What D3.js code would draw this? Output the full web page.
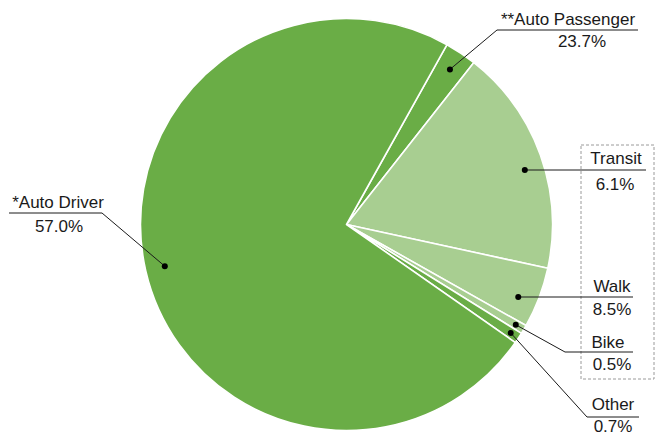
<!DOCTYPE html>
<html>
<head>
<meta charset="utf-8">
<script src="https://cdn.jsdelivr.net/npm/d3@7"></script>
<style>
    body { margin: 0; background: #fff; }
    text { font-family: "Liberation Sans", Arial, sans-serif; font-size: 17px; fill: #1a1a1a; }
</style>
</head>
<body>
<div id="chart"></div>
<script>
// slice order, clockwise from the Auto Passenger wedge near 12 o'clock
const categories = ["**Auto Passenger", "Transit", "Walk", "Bike", "Other", "*Auto Driver"];
// wedge sizes as drawn (share of the circle, %)
const sliceValues = [2.5, 17.8, 4.75, 0.7, 0.85, 73.4];
// percentages printed in the labels
const labelValues = ["23.7%", "6.1%", "8.5%", "0.5%", "0.7%", "57.0%"];
const shades = ["dark", "light", "light", "light", "dark", "dark"];

const width = 656, height = 435;
const cx = 346.5, cy = 224.5, radius = 206;
const startDeg = 29.2;

const colors = { dark: "#6aad46", light: "#a8ce91" };

// label placement: text centres, baselines, underline
const layout = [
    { nx: 568, ny: 25, vx: 582, vy: 47, ly: 30, lx1: 497, lx2: 638, flat: false },
    { nx: 616, ny: 164, vx: 615, vy: 190, ly: 170, lx1: null, lx2: 646, flat: true },
    { nx: 612, ny: 292, vx: 612, vy: 315, ly: 297, lx1: null, lx2: 633, flat: true },
    { nx: 608, ny: 348, vx: 612, vy: 370, ly: 352, lx1: 565, lx2: 633, flat: false },
    { nx: 613, ny: 410, vx: 613, vy: 432, ly: 417, lx1: 587, lx2: 639, flat: false },
    { nx: 58, ny: 208, vx: 59, vy: 232, ly: 213, lx1: 102, lx2: 9, flat: false }
];

const svg = d3.select("#chart").append("svg")
    .attr("width", width)
    .attr("height", height);

const g = svg.append("g")
    .attr("transform", "translate(" + cx + "," + cy + ")");

const start = startDeg * Math.PI / 180;
const pie = d3.pie()
    .sort(null)
    .value((d) => d)
    .startAngle(start)
    .endAngle(start + 2 * Math.PI);

const arcs = pie(sliceValues);

const arc = d3.arc().innerRadius(0).outerRadius(radius);

g.selectAll("path.slice")
    .data(arcs)
    .enter()
    .append("path")
    .attr("class", "slice")
    .attr("d", arc)
    .attr("fill", (d, i) => colors[shades[i]])
    .attr("stroke", "#fff")
    .attr("stroke-width", 1.6)
    .attr("stroke-linejoin", "round");

// dot position for each wedge
function dotPos(d, i) {
    const L = layout[i];
    const small = (d.endAngle - d.startAngle) < 0.06;
    const r = small ? radius * 0.955 : radius * 0.905;
    if (L.flat) {
        const dy = L.ly - cy;
        return [cx + Math.sqrt(r * r - dy * dy), L.ly];
    }
    const a = (d.startAngle + d.endAngle) / 2;
    return [cx + r * Math.sin(a), cy - r * Math.cos(a)];
}

const labels = svg.append("g").attr("class", "labels");

// dashed frame around the right-hand labels
labels.append("rect")
    .attr("x", 581)
    .attr("y", 145)
    .attr("width", 73)
    .attr("height", 234)
    .attr("fill", "none")
    .attr("stroke", "#9a9a9a")
    .attr("stroke-dasharray", "3,2");

arcs.forEach((d, i) => {
    const L = layout[i];
    const p = dotPos(d, i);
    const pts = L.lx1 === null
        ? [p, [L.lx2, L.ly]]
        : [p, [L.lx1, L.ly], [L.lx2, L.ly]];

    labels.append("path")
        .attr("d", d3.line()(pts))
        .attr("fill", "none")
        .attr("stroke", "#1a1a1a")
        .attr("stroke-width", 1);

    labels.append("circle")
        .attr("cx", p[0])
        .attr("cy", p[1])
        .attr("r", 3)
        .attr("fill", "#000");

    labels.append("text")
        .attr("x", L.nx)
        .attr("y", L.ny)
        .attr("text-anchor", "middle")
        .text(categories[i]);

    labels.append("text")
        .attr("x", L.vx)
        .attr("y", L.vy)
        .attr("text-anchor", "middle")
        .text(labelValues[i]);
});
</script>
</body>
</html>
